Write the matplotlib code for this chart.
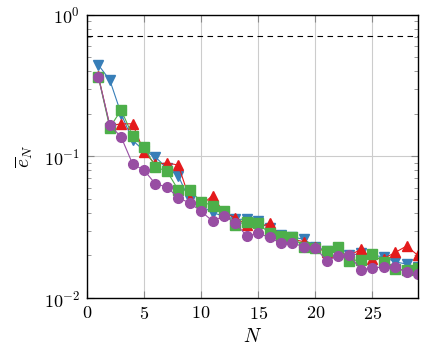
import numpy as np
import matplotlib
matplotlib.use("Agg")
import matplotlib.pyplot as plt

plt.rcParams['font.family'] = 'serif'
plt.rcParams['font.serif'] = ['cmr10']
plt.rcParams['mathtext.fontset'] = 'cm'
plt.rcParams['axes.formatter.use_mathtext'] = True

N = np.arange(1, 30)

# erreur moyenne pour chaque methode
err_blue = [0.443, 0.347, 0.2, 0.13, 0.11, 0.099, 0.083, 0.073, 0.049, 0.045,
            0.04, 0.038, 0.036, 0.036, 0.035, 0.031, 0.028, 0.027, 0.026, 0.023,
            0.0216, 0.021, 0.020, 0.0207, 0.020, 0.0196, 0.018, 0.0174, 0.0165]
err_red = [0.37, 0.165, 0.17, 0.17, 0.108, 0.088, 0.09, 0.087, 0.05, 0.045,
           0.053, 0.04, 0.037, 0.033, 0.031, 0.034, 0.027, 0.026, 0.025, 0.023,
           0.021, 0.021, 0.020, 0.0221, 0.019, 0.019, 0.021, 0.0233, 0.020]
err_green = [0.365, 0.16, 0.213, 0.14, 0.117, 0.084, 0.079, 0.058, 0.058, 0.048,
             0.045, 0.041, 0.033, 0.0346, 0.0337, 0.0286, 0.0274, 0.0269, 0.0231, 0.0227,
             0.0216, 0.0231, 0.0184, 0.0186, 0.0204, 0.0181, 0.016, 0.0158, 0.0162]
err_purple = [0.365, 0.167, 0.137, 0.0886, 0.08, 0.064, 0.061, 0.051, 0.047, 0.041,
              0.035, 0.038, 0.034, 0.0274, 0.0286, 0.0269, 0.0244, 0.0244, 0.0231, 0.0227,
              0.0184, 0.0198, 0.0201, 0.0158, 0.0164, 0.0165, 0.0165, 0.0152, 0.0147]

# niveau de reference (ligne pointillee)
ref_level = 0.707

fig = plt.figure(figsize=(4.22, 3.54), dpi=100)
ax = fig.add_axes([0.206, 0.158, 0.7845, 0.800])

ax.plot(N, err_blue, '-v', color='#377eb8', lw=0.8, ms=6.5)
ax.plot(N, err_red, '-^', color='#e41a1c', lw=0.8, ms=6.5)
ax.plot(N, err_green, '-s', color='#4daf4a', lw=0.8, ms=6.5)
ax.plot(N, err_purple, '-o', color='#984ea3', lw=0.8, ms=7)
ax.axhline(ref_level, color='black', lw=0.8, ls=(0, (5, 4)))

ax.set_yscale('log')
ax.set_xlim(0, 29)
ax.set_ylim(1e-2, 1)
ax.set_xticks([0, 5, 10, 15, 20, 25])
ax.grid(True, which='major', color='#cccccc', lw=0.8)
ax.tick_params(which='both', direction='in', top=True, right=True, labelsize=13)
ax.tick_params(which='major', length=5, color='#888888', pad=5)
ax.tick_params(which='minor', length=3, color='#888888')
for s in ax.spines.values():
    s.set_linewidth(1.0)

ax.set_xlabel('$N$', fontsize=14)
ax.set_ylabel(r'$\overline{e}_N$', fontsize=14, labelpad=6)

plt.savefig('out.png', dpi=100)
